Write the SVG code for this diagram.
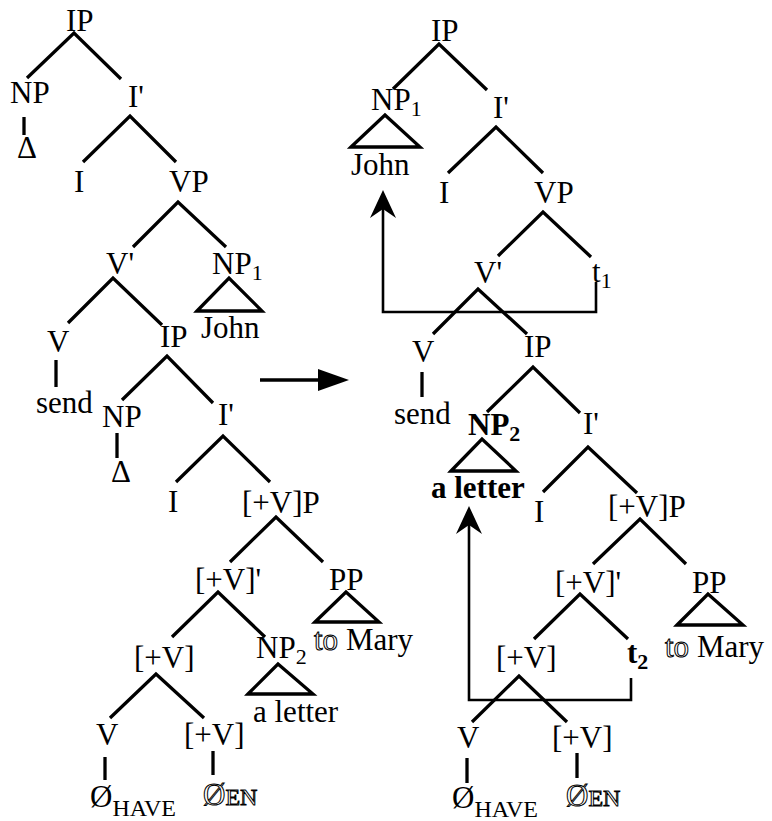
<svg xmlns="http://www.w3.org/2000/svg" width="772" height="821" viewBox="0 0 772 821">
<defs>
<style>
text{font-family:"Liberation Serif","Times New Roman",serif;font-size:31px;fill:#000}
.sub{font-size:22px}
.hs{font-size:24px}
.b{font-weight:bold}
.ol{fill:#fff;stroke:#000;stroke-width:1px}
.e{stroke:#000;stroke-width:3.3;fill:none}
.tri{stroke:#000;stroke-width:3.3;fill:none;stroke-linejoin:miter}
.mv{stroke:#000;stroke-width:2.6;fill:none}
</style>
<marker id="stealth" markerUnits="userSpaceOnUse" markerWidth="32" markerHeight="28" viewBox="0 0 32 28" refX="22" refY="14" orient="auto">
<path d="M30,14 L2,1 L11,14 L2,27 Z" fill="#000"/>
</marker>
<marker id="bigarrow" markerUnits="userSpaceOnUse" markerWidth="32" markerHeight="24" viewBox="0 0 32 24" refX="0" refY="12" orient="auto">
<path d="M0,1 L31,12 L0,23 Z" fill="#000"/>
</marker>
</defs>
<rect width="772" height="821" fill="#fff"/>

<g id="connectors">
<!-- left tree -->
<path class="e" d="M27,78 L74,33 L121,79"/>
<path class="e" d="M24,117 V135"/>
<path class="e" d="M83,162 L130,116 L176,162"/>
<path class="e" d="M133,247 L178,202 L226,247"/>
<path class="e" d="M68,323 L113,278 L162,325"/>
<path class="e" d="M56,360 V387"/>
<path class="e" d="M122,400 L167,356 L213,403"/>
<path class="e" d="M117,433 V458"/>
<path class="e" d="M176,482 L223,436 L270,482"/>
<path class="e" d="M230,562 L276,517 L323,562"/>
<path class="e" d="M172,637 L218,592 L265,637"/>
<path class="e" d="M110,718 L156,674 L204,718"/>
<path class="e" d="M105,757 V780"/>
<path class="e" d="M213,751 V775"/>
<!-- transformation arrow -->
<path class="e" d="M260,380 H318" marker-end="url(#bigarrow)"/>
<!-- right tree -->
<path class="e" d="M393,89 L439,44 L487,90"/>
<path class="e" d="M448,173 L496,127 L543,173"/>
<path class="e" d="M498,256 L543,212 L591,257"/>
<path class="e" d="M433,334 L478,289 L527,334"/>
<path class="e" d="M422,372 V397"/>
<path class="e" d="M487,412 L533,367 L580,413"/>
<path class="e" d="M543,492 L588,447 L637,493"/>
<path class="e" d="M593,564 L640,519 L686,564"/>
<path class="e" d="M534,639 L580,594 L628,639"/>
<path class="e" d="M472,722 L519,676 L567,722"/>
<path class="e" d="M467,758 V783"/>
<path class="e" d="M577,753 V778"/>
<!-- movement arrows -->
<path class="mv" d="M596,282 V312 H383 V198" marker-end="url(#stealth)"/>
<path class="mv" d="M631,678 V700 H469 V514" marker-end="url(#stealth)"/>
</g>

<!-- left tree nodes -->
<g id="L-IP"><text x="66" y="31">IP</text></g>
<g id="L-NP-top"><text x="10" y="103">NP</text></g>
<g id="L-delta-top"><text x="17" y="158">Δ</text></g>
<g id="L-Ibar"><text x="128" y="107">I'</text></g>
<g id="L-I"><text x="74" y="192">I</text></g>
<g id="L-VP"><text x="169" y="192">VP</text></g>
<g id="L-Vbar"><text x="106" y="274">V'</text></g>
<g id="L-NP1"><text x="212" y="274">NP<tspan class="sub" dy="6">1</tspan></text>
<path class="tri" d="M197,311 L229,278 L262,311 Z"/>
<text x="201" y="338">John</text></g>
<g id="L-V"><text x="47" y="352">V</text></g>
<g id="L-send"><text x="36" y="413">send</text></g>
<g id="L-IP2"><text x="160" y="347">IP</text></g>
<g id="L-NP-low"><text x="102" y="427">NP</text></g>
<g id="L-delta-low"><text x="111" y="482">Δ</text></g>
<g id="L-Ibar2"><text x="218" y="425">I'</text></g>
<g id="L-I2"><text x="168" y="512">I</text></g>
<g id="L-VP+"><text x="242" y="513">[+V]P</text></g>
<g id="L-Vbar+"><text x="195" y="590">[+V]'</text></g>
<g id="L-PP"><text x="329" y="590">PP</text>
<path class="tri" d="M315,622 L346,592 L379,622 Z"/>
<text x="314" y="650"><tspan class="ol">to</tspan> Mary</text></g>
<g id="L-V+"><text x="134" y="668">[+V]</text></g>
<g id="L-NP2"><text x="256" y="658">NP<tspan class="sub" dy="6">2</tspan></text>
<path class="tri" d="M248,694 L278,664 L313,694 Z"/>
<text x="253" y="722">a letter</text></g>
<g id="L-V-low"><text x="96" y="745">V</text></g>
<g id="L-V+low"><text x="184" y="745">[+V]</text></g>
<g id="L-have"><text x="90" y="807">Ø<tspan class="hs" dy="9">HAVE</tspan></text></g>
<g id="L-en"><text x="203" y="805" class="ol">Ø<tspan class="hs">EN</tspan></text></g>

<!-- right tree nodes -->
<g id="R-IP"><text x="431" y="41">IP</text></g>
<g id="R-NP1"><text x="371" y="110">NP<tspan class="sub" dy="6">1</tspan></text>
<path class="tri" d="M351,147 L385,115 L420,147 Z"/>
<text x="351" y="175">John</text></g>
<g id="R-Ibar"><text x="493" y="118">I'</text></g>
<g id="R-I"><text x="439" y="203">I</text></g>
<g id="R-VP"><text x="534" y="203">VP</text></g>
<g id="R-Vbar"><text x="474" y="283">V'</text></g>
<g id="R-t1"><text x="592" y="282">t<tspan class="sub" dy="6">1</tspan></text></g>
<g id="R-V"><text x="412" y="362">V</text></g>
<g id="R-send"><text x="394" y="424">send</text></g>
<g id="R-IP2"><text x="524" y="357">IP</text></g>
<g id="R-NP2"><text x="468" y="435" class="b">NP<tspan class="sub" dy="6">2</tspan></text>
<path class="tri" d="M451,471 L482,439 L516,471 Z"/>
<text x="431" y="498" class="b">a letter</text></g>
<g id="R-Ibar2"><text x="583" y="434">I'</text></g>
<g id="R-I2"><text x="534" y="522">I</text></g>
<g id="R-VP+"><text x="608" y="517">[+V]P</text></g>
<g id="R-Vbar+"><text x="555" y="593">[+V]'</text></g>
<g id="R-PP"><text x="692" y="593">PP</text>
<path class="tri" d="M677,625 L708,594 L743,625 Z"/>
<text x="665" y="657"><tspan class="ol">to</tspan> Mary</text></g>
<g id="R-V+"><text x="496" y="668">[+V]</text></g>
<g id="R-t2"><text x="627" y="663" class="b">t<tspan class="sub" dy="6">2</tspan></text></g>
<g id="R-V-low"><text x="457" y="748">V</text></g>
<g id="R-V+low"><text x="552" y="748">[+V]</text></g>
<g id="R-have"><text x="452" y="808">Ø<tspan class="hs" dy="9">HAVE</tspan></text></g>
<g id="R-en"><text x="566" y="806" class="ol">Ø<tspan class="hs">EN</tspan></text></g>
</svg>
